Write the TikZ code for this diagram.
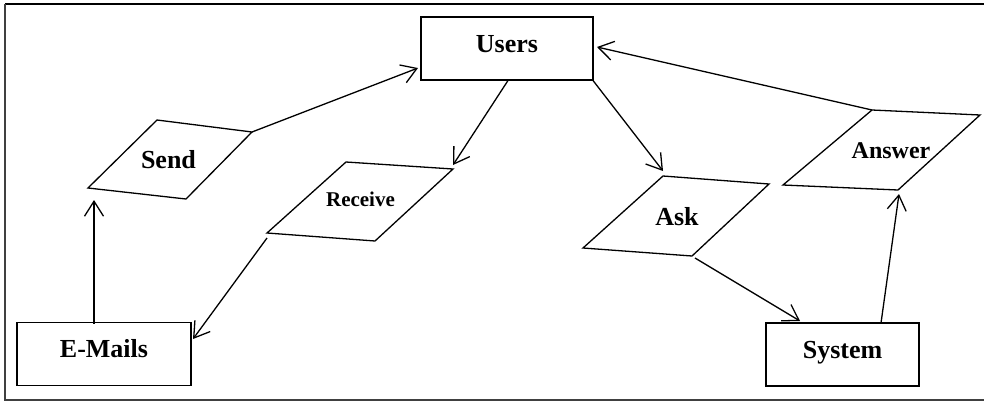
\documentclass[tikz,border=0pt]{standalone}
\usepackage{fontspec}
\setmainfont{Liberation Serif}
\usetikzlibrary{arrows.meta}
\tikzset{
  box/.style={draw, line width=1.4pt, minimum width=#1, minimum height=63pt,
    inner sep=0pt, font=\fontsize{26}{30}\selectfont\bfseries,
    text height=16pt, text depth=9pt},
  para/.style={draw, line width=1.3pt, line join=miter},
  lbl/.style={anchor=base, inner sep=0pt, font=\bfseries},
  flow/.style={line width=1.3pt, -{Straight Barb[length=15pt,width=19pt,line width=1.3pt]}},
}
\begin{document}
\begin{tikzpicture}[x=1pt,y=-1pt]
\useasboundingbox (0,0) rectangle (984,402);
\clip (0,0) rectangle (984,402);
% outer frame
\draw[line width=1.6pt] (5,4) -- (990,4);
\draw[line width=1.1pt, black!75] (5,4) -- (5,400) -- (990,400);

% rectangular stores
\node[box=172pt] (users)  at (507,48.5)  {Users};
\node[box=174pt] (emails) at (104,354)   {E-Mails};
\node[box=153pt] (system) at (842.5,354.5) {System};

% parallelogram processes
\coordinate (s1) at (157,120); \coordinate (s2) at (252,132);
\coordinate (s3) at (186,199); \coordinate (s4) at (88,188);
\draw[para] (s1) -- (s2) -- (s3) -- (s4) -- cycle;
\node[lbl, font=\fontsize{26}{30}\selectfont\bfseries] (send) at (168.5,168) {Send};

\coordinate (r1) at (346,162); \coordinate (r2) at (453,169);
\coordinate (r3) at (375,241); \coordinate (r4) at (267,233);
\draw[para] (r1) -- (r2) -- (r3) -- (r4) -- cycle;
\node[lbl, font=\fontsize{21}{25}\selectfont\bfseries] (receive) at (360.5,206) {Receive};

\coordinate (k1) at (663,176); \coordinate (k2) at (769,184);
\coordinate (k3) at (692,256); \coordinate (k4) at (583,248);
\draw[para] (k1) -- (k2) -- (k3) -- (k4) -- cycle;
\node[lbl, font=\fontsize{26}{30}\selectfont\bfseries] (ask) at (677,225) {Ask};

\coordinate (a1) at (872,110); \coordinate (a2) at (980,115);
\coordinate (a3) at (898,190); \coordinate (a4) at (783,185);
\draw[para] (a1) -- (a2) -- (a3) -- (a4) -- cycle;
\node[lbl, font=\fontsize{24}{28}\selectfont\bfseries] (answer) at (891,158) {Answer};

% connector end points
\coordinate (emTop)   at (94,323.5);
\coordinate (sendIn)  at (94,200);
\coordinate (usL)     at (418,68);
\coordinate (usB1)    at (508,80.5);
\coordinate (recIn)   at (453,165);
\coordinate (usB2)    at (593,80.5);
\coordinate (askIn)   at (663,171);
\coordinate (usR)     at (597,47);
\coordinate (recOut)  at (267,238);
\coordinate (emIn)    at (193,339);
\coordinate (askOut)  at (695,258);
\coordinate (sysIn)   at (800,321);
\coordinate (sysTop)  at (881,323);
\coordinate (ansIn)   at (899,194);

% data flows
\draw[flow] (emTop) -- (sendIn);
\draw[flow] (s2) -- (usL);
\draw[flow] (usB1) -- (recIn);
\draw[flow] (usB2) -- (askIn);
\draw[flow] (a1) -- (usR);
\draw[flow] (recOut) -- (emIn);
\draw[flow] (askOut) -- (sysIn);
\draw[flow] (sysTop) -- (ansIn);
\end{tikzpicture}
\end{document}
